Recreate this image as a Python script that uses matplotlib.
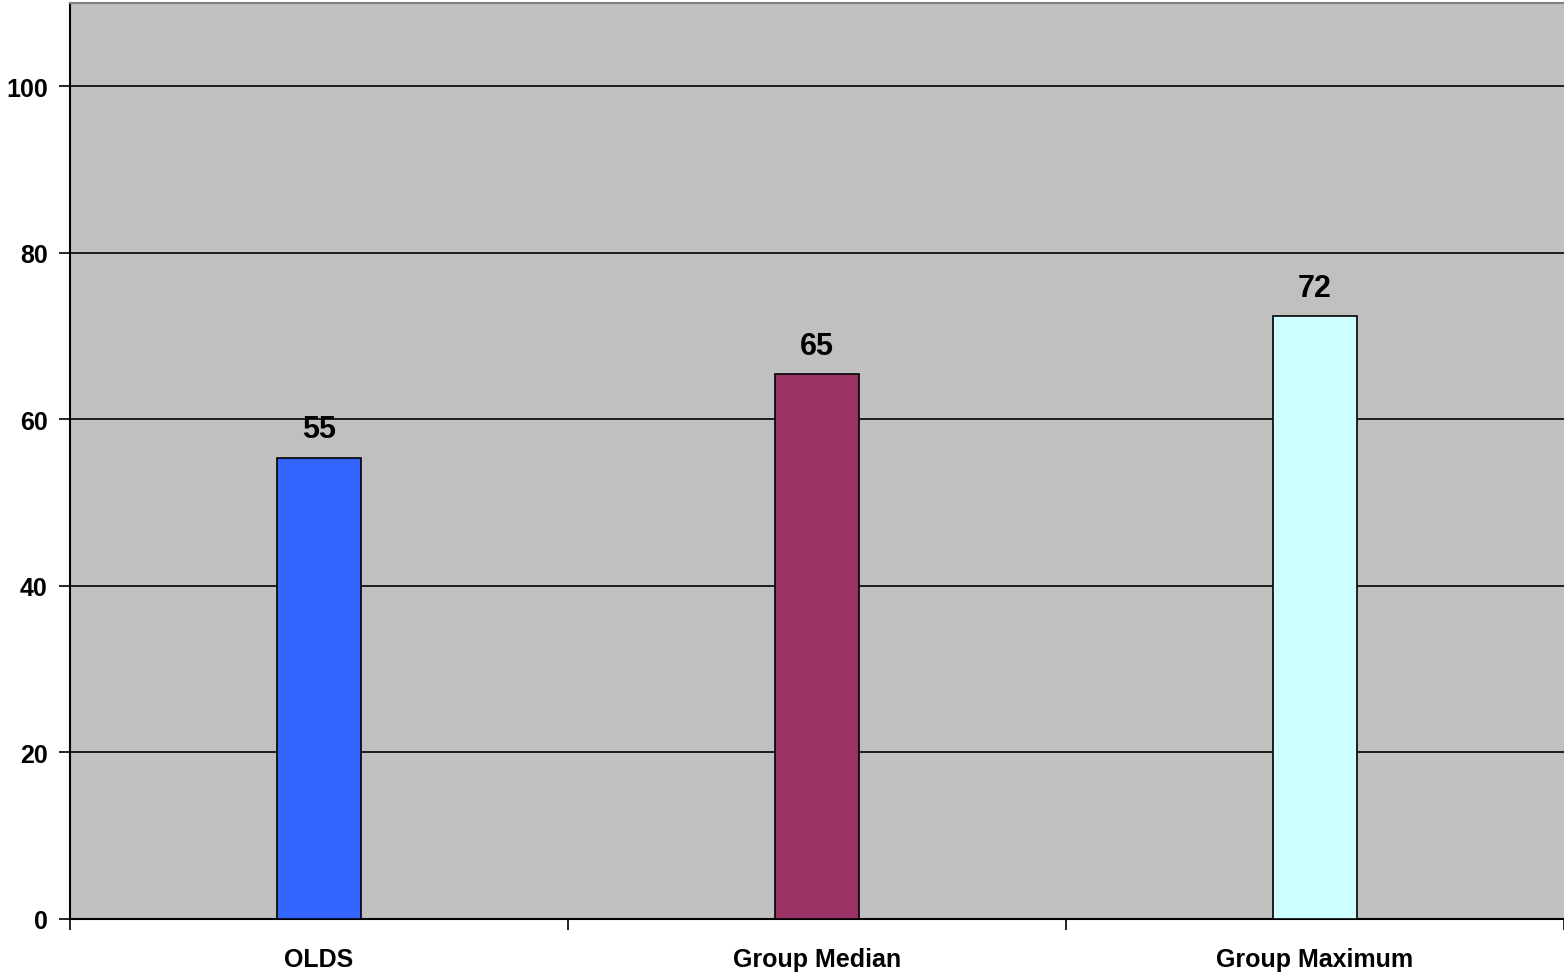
import matplotlib.pyplot as plt
import numpy as np

categories = ["OLDS", "Group Median", "Group Maximum"]
values = [55.4, 65.4, 72.4]
bar_colors = ["#3366FF", "#993366", "#CCFFFF"]
y_ticks = [0, 20, 40, 60, 80, 100]

plt.rcParams["font.family"] = ["Liberation Sans", "DejaVu Sans"]

fig = plt.figure(figsize=(15.64, 9.79), dpi=100)
ax = fig.add_axes([70 / 1564, 1 - 920 / 979, 1 - 70 / 1564, (920 - 4) / 979])
ax.set_facecolor("#C0C0C0")

x = np.arange(len(categories))
ax.bar(x, values, width=0.17, color=bar_colors, edgecolor="black", linewidth=1.2, zorder=3)

for xi, v in zip(x, values):
    ax.text(xi, v + 1.6, f"{int(v)}", ha="center", va="bottom",
            fontsize=22, fontweight="bold", zorder=4)

ax.set_xlim(-0.5, len(categories) - 0.5)
ax.set_ylim(0, 110)
ax.set_yticks(y_ticks)
ax.set_yticklabels([str(t) for t in y_ticks], fontsize=18, fontweight="bold")
ax.yaxis.grid(True, color="black", linewidth=1.2, zorder=1)
ax.set_axisbelow(True)

# category boundary ticks, labels centered below
ax.set_xticks(np.arange(len(categories) + 1) - 0.5)
ax.set_xticklabels([])
ax.set_xticks(x, minor=True)
ax.set_xticklabels(categories, minor=True, fontsize=18, fontweight="bold")
ax.tick_params(axis="x", which="major", length=8, width=1.2, direction="out")
ax.tick_params(axis="x", which="minor", length=0, pad=20)
ax.tick_params(axis="y", length=8, width=1.2, direction="out", pad=8)

ax.spines["left"].set_linewidth(1.5)
ax.spines["bottom"].set_linewidth(1.5)
ax.spines["top"].set_color("#808080")
ax.spines["top"].set_linewidth(1.5)
ax.spines["right"].set_visible(False)

fig.savefig("out.png", dpi=100, facecolor="white")
